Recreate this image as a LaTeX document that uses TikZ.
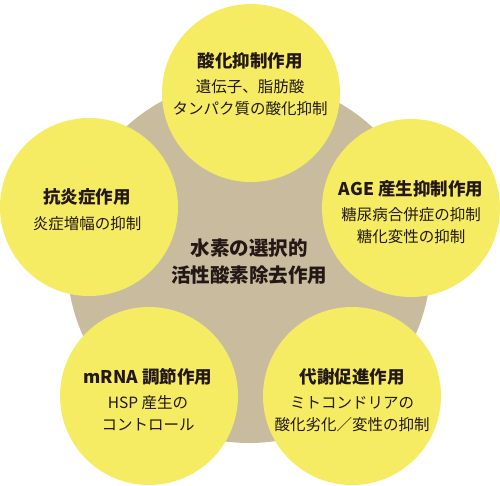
\documentclass[tikz,border=0pt]{standalone}
\usepackage{fontspec}
\setmainfont{Noto Sans CJK JP}
\definecolor{tan}{RGB}{201,187,158}
\definecolor{yel}{RGB}{245,236,100}
\definecolor{ink}{RGB}{35,24,21}
\begin{document}
\begin{tikzpicture}[x=1pt,y=-1pt,
  petal/.style={circle,fill=yel,minimum size=178pt,inner sep=0pt},
  ttl/.style={text=ink,font=\fontsize{17.5}{20}\selectfont\bfseries,inner sep=0pt},
  sub/.style={text=ink,font=\fontsize{15.5}{18}\selectfont,inner sep=0pt},
  ctr/.style={text=ink,font=\fontsize{19.5}{22}\selectfont\bfseries,inner sep=0pt}]
\useasboundingbox (0,0) rectangle (500,485);
\node[circle,fill=tan,minimum size=364pt,inner sep=0pt] (hub) at (249,261) {};
\node[petal] (p1) at (251,93) {};
\node[petal] (p2) at (89,207) {};
\node[petal] (p3) at (411,208) {};
\node[petal] (p4) at (149,396) {};
\node[petal] (p5) at (352,396) {};
% center
\node[ctr] (c1) at (249,248) {水素の選択的};
\node[ctr] (c2) at (249,275) {活性酸素除去作用};
% top
\node[ttl] (a1) at (250,61) {酸化抑制作用};
\node[sub] (a2) at (250,87) {遺伝子、脂肪酸};
\node[sub] (a3) at (250,109) {タンパク質の酸化抑制};
% left
\node[ttl] (b1) at (87,197) {抗炎症作用};
\node[sub] (b2) at (87,224) {炎症増幅の抑制};
% right
\node[ttl] (d1) at (411,189) {AGE 産生抑制作用};
\node[sub] (d2) at (411,215) {糖尿病合併症の抑制};
\node[sub] (d3) at (411,237) {糖化変性の抑制};
% bottom left
\node[ttl] (e1) at (148,377) {mRNA 調節作用};
\node[sub] (e2) at (148,403) {HSP 産生の};
\node[sub] (e3) at (148,425) {コントロール};
% bottom right
\node[ttl] (f1) at (352,377) {代謝促進作用};
\node[sub] (f2) at (352,403) {ミトコンドリアの};
\node[sub] (f3) at (352,425) {酸化劣化／変性の抑制};
\end{tikzpicture}
\end{document}
